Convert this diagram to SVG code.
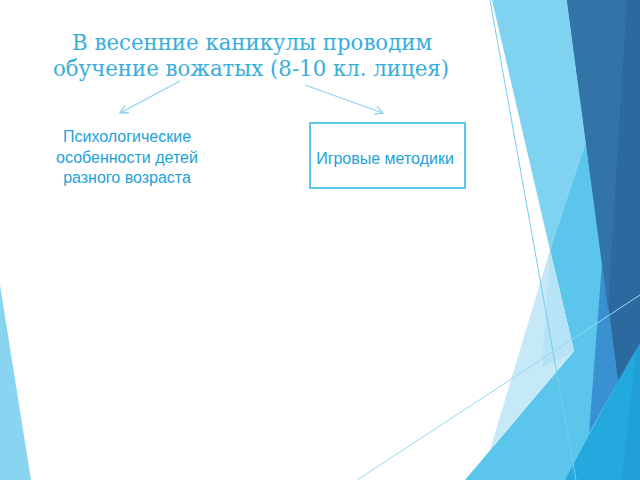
<svg xmlns="http://www.w3.org/2000/svg" width="640" height="480" viewBox="0 0 640 480">
  <defs>
    <style>
      .title { font-family: "DejaVu Serif", "Liberation Serif", serif; font-size: 22px; fill: #38aedc; text-anchor: middle; }
      .label { font-family: "Liberation Sans", Arial, sans-serif; font-size: 16px; fill: #22a2da; text-anchor: middle; }
      .conn { stroke: #8ad4f0; stroke-width: 1.2; fill: none; }
      .thin { stroke-width: 1; fill: none; }
    </style>
    <marker id="arrow" markerUnits="userSpaceOnUse" markerWidth="10" markerHeight="10" viewBox="0 0 10 10" refX="9" refY="5" orient="auto">
      <path d="M1,1 L9,5 L1,9" fill="none" stroke="#8ad4f0" stroke-width="1.3"/>
    </marker>
  </defs>

  <rect x="0" y="0" width="640" height="480" fill="#ffffff"/>

  <g id="background">
    <polygon points="0,285 31,480 0,480" fill="#89d4f0"/>
    <polygon points="586,140 550,250 574,351 465,480 640,480 640,140" fill="#5bc5eb"/>
    <polygon points="550,250 490,450 574,351" fill="#c6e9f8"/>
    <polygon points="550,250 542,368 574,351" fill="#b6e3f6"/>
    <polygon points="492,0 568,0 587,140 550,250" fill="#7fd3f0"/>
    <polygon points="602,263 618,381 589,433" fill="#3a91d2"/>
    <polygon points="565,480 618,381 640,343 640,480" fill="#24a9df"/>
    <polygon points="622,480 636,350 640,343 640,480" fill="#1f9fd6"/>
    <polygon points="567,0 640,0 640,343 618,381" fill="#2b699e"/>
    <polygon points="567,0 627,0 608,310" fill="#3274a7"/>
    <line class="thin" x1="490" y1="0" x2="576" y2="480" stroke="#74cdef"/>
    <line class="thin" x1="357" y1="480" x2="640" y2="295" stroke="#95d8f2"/>
  </g>

  <g id="title">
    <text class="title" x="252" y="50" textLength="360" lengthAdjust="spacingAndGlyphs">В весенние каникулы проводим</text>
    <text class="title" x="251" y="76" textLength="396" lengthAdjust="spacingAndGlyphs">обучение вожатых (8-10 кл. лицея)</text>
  </g>

  <g id="connectors">
    <line class="conn" x1="180" y1="81" x2="120" y2="113" marker-end="url(#arrow)"/>
    <line class="conn" x1="305" y1="85" x2="383" y2="113" marker-end="url(#arrow)"/>
  </g>

  <g id="node-psych">
    <text class="label" x="127" y="142">Психологические</text>
    <text class="label" x="127" y="163">особенности детей</text>
    <text class="label" x="127" y="183">разного возраста</text>
  </g>

  <g id="node-games">
    <rect x="310" y="123" width="155" height="65" fill="#ffffff" stroke="#5bc5eb" stroke-width="2"/>
    <text class="label" x="385" y="164">Игровые методики</text>
  </g>
</svg>
